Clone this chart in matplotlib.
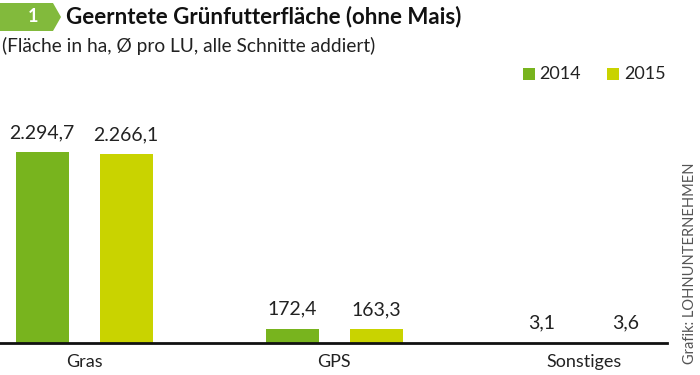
import matplotlib
matplotlib.use("Agg")
import matplotlib.pyplot as plt
from matplotlib.patches import Polygon, Rectangle
import numpy as np

plt.rcParams['font.family'] = ['Lato', 'DejaVu Sans']

categories = ["Gras", "GPS", "Sonstiges"]
series_names = ["2014", "2015"]
values_2014 = [2294.7, 172.4, 3.1]
values_2015 = [2266.1, 163.3, 3.6]
labels_2014 = ["2.294,7", "172,4", "3,1"]
labels_2015 = ["2.266,1", "163,3", "3,6"]

c2014 = "#78b41e"
c2015 = "#c9d300"

W, H = 700, 375
fig = plt.figure(figsize=(7, 3.75), dpi=100)

def fx(px):
    return px / W

def fy(py):
    return 1 - py / H

base_px = 343
top_px = 100
ax = fig.add_axes([0, fy(base_px), fx(667), (base_px - top_px) / H])
x = np.arange(len(categories))
off = 0.168
bw = 0.212
b1 = ax.bar(x - off, values_2014, bw, color=c2014)
b2 = ax.bar(x + off, values_2015, bw, color=c2015)
ax.set_xlim(-0.336, 2.332)
ax.set_ylim(0, 2920)
for s in ["top", "right", "left"]:
    ax.spines[s].set_visible(False)
ax.spines["bottom"].set_linewidth(2)
ax.spines["bottom"].set_color("#111111")
ax.set_yticks([])
ax.set_xticks(x)
ax.set_xticklabels(categories, fontsize=13, color="#222222")
ax.tick_params(axis="x", length=0, pad=8)
for bars, labs in ((b1, labels_2014), (b2, labels_2015)):
    for r, lab in zip(bars, labs):
        ax.annotate(lab, (r.get_x() + r.get_width() / 2, r.get_height()),
                    xytext=(0, 8), textcoords="offset points",
                    ha="center", va="bottom", fontsize=14, color="#222222")

# badge
badge = Polygon([[fx(0), fy(3)], [fx(53), fy(3)], [fx(61), fy(17)],
                 [fx(53), fy(31)], [fx(0), fy(31)]], closed=True,
                transform=fig.transFigure, facecolor="#82ba3c", edgecolor="none")
fig.patches.append(badge)
fig.text(fx(33), fy(17), "1", color="white", fontsize=13, fontweight="bold",
         ha="center", va="center")
fig.text(fx(66), fy(17), "Geerntete Grünfutterfläche (ohne Mais)", fontsize=16,
         fontweight="bold", color="#111111", ha="left", va="center")
fig.text(fx(2), fy(46), "(Fläche in ha, Ø pro LU, alle Schnitte addiert)", fontsize=13.8,
         color="#222222", ha="left", va="center")

# legend
for sx, tx, col, name in ((523, 539, c2014, series_names[0]), (607, 624, c2015, series_names[1])):
    fig.patches.append(Rectangle((fx(sx), fy(80)), fx(12), 12 / H, transform=fig.transFigure,
                                 facecolor=col, edgecolor="none"))
    fig.text(fx(tx), fy(74), name, fontsize=13, color="#222222", ha="left", va="center")

fig.text(fx(690), fy(263), "Grafik: LOHNUNTERNEHMEN", rotation=90, fontsize=10.5,
         color="#555555", ha="center", va="center")

fig.savefig("out.png", dpi=100)
